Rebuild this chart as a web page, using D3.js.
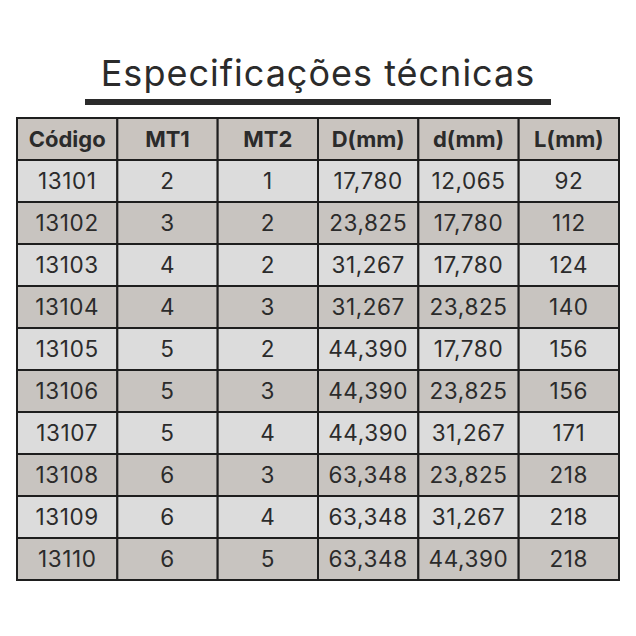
<!DOCTYPE html>
<html>
<head>
<meta charset="utf-8">
<script src="https://cdn.jsdelivr.net/npm/d3@7"></script>
<style>
  body { margin: 0; background: #fff; }
  text { font-family: Inter, "Noto Sans", sans-serif; }
</style>
</head>
<body>
<div id="chart"></div>
<script>
// data
const title = "Especificações técnicas";
const columns = ["Código", "MT1", "MT2", "D(mm)", "d(mm)", "L(mm)"];
const codes = ["13101", "13102", "13103", "13104", "13105", "13106", "13107", "13108", "13109", "13110"];
const mt1 = ["2", "3", "4", "4", "5", "5", "5", "6", "6", "6"];
const mt2 = ["1", "2", "2", "3", "2", "3", "4", "3", "4", "5"];
const bigD = ["17,780", "23,825", "31,267", "31,267", "44,390", "44,390", "44,390", "63,348", "63,348", "63,348"];
const smallD = ["12,065", "17,780", "17,780", "23,825", "17,780", "23,825", "31,267", "23,825", "31,267", "44,390"];
const lengths = ["92", "112", "124", "140", "156", "156", "171", "218", "218", "218"];

const rows = codes.map((c, i) => [c, mt1[i], mt2[i], bigD[i], smallD[i], lengths[i]]);

const width = 636, height = 636;
const svg = d3.select("#chart").append("svg").attr("width", width).attr("height", height);

// title + bar
svg.append("text")
  .attr("x", 318).attr("y", 86)
  .attr("text-anchor", "middle")
  .attr("font-size", 36)
  .attr("letter-spacing", 1)
  .attr("fill", "#2b2b2b")
  .text(title);
svg.append("rect").attr("x", 85).attr("y", 99).attr("width", 466).attr("height", 6).attr("fill", "#2b2b2b");

// scales
const x = d3.scaleBand().domain(d3.range(columns.length)).range([17, 619]);
const y = d3.scaleBand().domain(d3.range(rows.length + 1)).range([118, 580]);

const cells = [];
columns.forEach((c, j) => cells.push({ r: 0, c: j, v: c, head: true }));
rows.forEach((row, i) => row.forEach((v, j) => cells.push({ r: i + 1, c: j, v: v, head: false })));

const fillFor = d => d.head ? "#c9c4bf" : (d.r % 2 === 1 ? "#dcdcdc" : "#c8c4c0");

const g = svg.append("g");
g.selectAll("rect.cell")
  .data(cells)
  .join("rect")
  .attr("class", "cell")
  .attr("x", d => x(d.c))
  .attr("y", d => y(d.r))
  .attr("width", x.bandwidth())
  .attr("height", y.bandwidth())
  .attr("fill", fillFor)
  .attr("stroke", "#1e1e1e")
  .attr("stroke-width", 2);

g.selectAll("text.cell")
  .data(cells)
  .join("text")
  .attr("class", "cell")
  .attr("x", d => x(d.c) + x.bandwidth() / 2)
  .attr("y", d => y(d.r) + y.bandwidth() / 2)
  .attr("dy", "0.36em")
  .attr("text-anchor", "middle")
  .attr("font-size", d => d.head ? 22 : 22.5)
  .attr("font-weight", d => d.head ? 700 : 400)
  .attr("letter-spacing", d => d.head ? 0 : 0.6)
  .attr("fill", "#2b2b2b")
  .text(d => d.v);
</script>
</body>
</html>
